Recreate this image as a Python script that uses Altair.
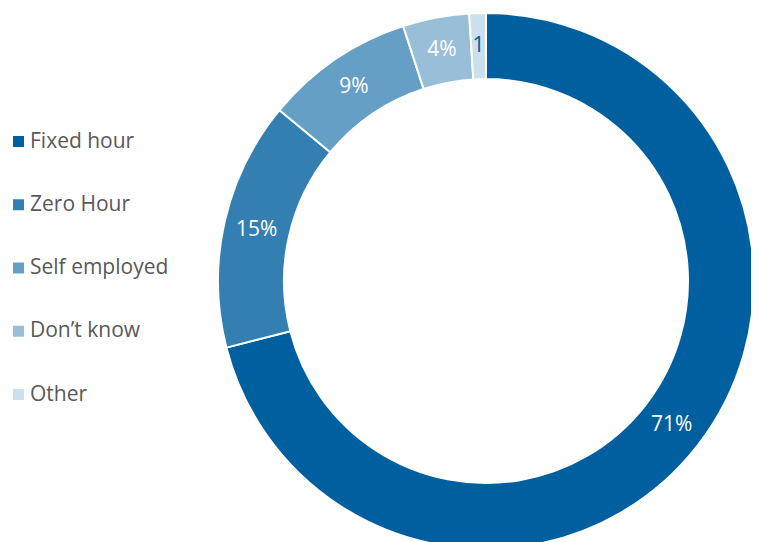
import altair as alt
import pandas as pd

categories = ["Fixed hour", "Zero Hour", "Self employed", "Don’t know", "Other"]
values = [71, 15, 9, 4, 1]
labels = ["71%", "15%", "9%", "4%", "1"]
colors = ["#005f9e", "#337fb1", "#669fc5", "#99bfd8", "#ccdfec"]
label_colors = ["#ffffff", "#ffffff", "#ffffff", "#ffffff", "#005f9e"]

df = pd.DataFrame({
    "category": categories,
    "value": values,
    "label": labels,
    "tc": label_colors,
    "idx": list(range(len(categories))),
})

CX, CY = 478, 273

base = alt.Chart(df).encode(
    theta=alt.Theta("value:Q", stack=True),
    order=alt.Order("idx:Q"),
)

arc = base.mark_arc(
    innerRadius=202, outerRadius=268, stroke="white", strokeWidth=2, x=CX, y=CY
).encode(
    color=alt.Color(
        "category:N",
        scale=alt.Scale(domain=categories, range=colors),
        sort=categories,
        legend=alt.Legend(
            orient="none", legendX=0, legendY=123, title=None, direction="vertical",
            symbolType="square", symbolSize=121, symbolStrokeWidth=0,
            labelFont="Open Sans", labelFontSize=21, labelColor="#595959",
            rowPadding=41.25, labelOffset=1,
        ),
    )
)

text = base.mark_text(radius=235, x=CX, y=CY, font="Open Sans", fontSize=21).encode(
    text="label:N",
    color=alt.Color("tc:N", scale=None),
)

chart = (arc + text).properties(
    width=743, height=534, autosize=alt.AutoSizeParams(type="none"), padding=0
).configure_view(stroke=None)

chart.save("out.html", embed_options={"renderer": "svg", "actions": False})
